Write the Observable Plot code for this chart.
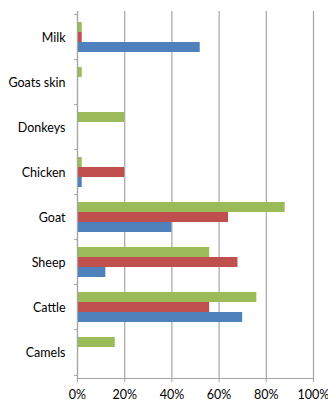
<!DOCTYPE html>
<html>
<head>
<meta charset="utf-8">
<script src="https://cdn.jsdelivr.net/npm/d3@7"></script>
<script src="https://cdn.jsdelivr.net/npm/@observablehq/plot@0.6"></script>
<style>
  html, body { margin: 0; padding: 0; background: #fff; }
</style>
</head>
<body>
<div id="chart"></div>
<script>
// Livestock categories, listed top to bottom
const categories = ["Milk", "Goats skin", "Donkeys", "Chicken", "Goat", "Sheep", "Cattle", "Camels"];

// Shares per category for each of the three series
const seriesBlue  = [0.52, 0,    0,    0.02, 0.40, 0.12, 0.70, 0];
const seriesRed   = [0.02, 0,    0,    0.20, 0.64, 0.68, 0.56, 0];
const seriesGreen = [0.02, 0.02, 0.20, 0.02, 0.88, 0.56, 0.76, 0.16];

const xTicks = [0, 0.2, 0.4, 0.6, 0.8, 1.0];

const colors = {blue: "#4F81BD", red: "#C0504D", green: "#9BBB59"};
const gridColor = "#a6a6a6";

const width = 328, height = 402;
const margin = {top: 11, right: 15, bottom: 24, left: 77};
const step = (height - margin.top - margin.bottom) / categories.length;
const barH = 10;
const pad = 1 - barH / step;

const rows = (values, series) => categories.map((c, i) => ({category: c, value: values[i], series}));

const chart = Plot.plot({
  width, height,
  marginTop: margin.top,
  marginRight: margin.right,
  marginBottom: margin.bottom,
  marginLeft: margin.left,
  style: {fontFamily: "Lato, 'Open Sans', sans-serif", fontSize: "12.5px", color: "#000", background: "#fff", overflow: "visible"},
  x: {domain: [0, 1], label: null},
  y: {domain: categories, paddingInner: pad, paddingOuter: pad / 2, label: null},
  marks: [
    Plot.gridX(xTicks, {stroke: gridColor, strokeOpacity: 1, strokeWidth: 1.2}),
    Plot.frame({anchor: "bottom", stroke: gridColor, strokeWidth: 1.2}),
    Plot.axisX({ticks: xTicks, tickFormat: d3.format(".0%"), tickSize: 4, tickPadding: 8, stroke: gridColor, fill: "#000", label: null}),
    Plot.axisY({tickSize: 0, tickPadding: 12, fill: "#000", label: null}),
    Plot.axisY({ticks: categories, tickSize: 3, tickFormat: () => "", dy: -step / 2, stroke: gridColor, label: null}),
    Plot.axisY({ticks: [categories[categories.length - 1]], tickSize: 3, tickFormat: () => "", dy: step / 2, stroke: gridColor, label: null}),
    Plot.barX(rows(seriesGreen, "green").filter(d => d.value > 0), {x: "value", y: "category", fill: colors.green, dy: -barH}),
    Plot.barX(rows(seriesRed, "red").filter(d => d.value > 0), {x: "value", y: "category", fill: colors.red}),
    Plot.barX(rows(seriesBlue, "blue").filter(d => d.value > 0), {x: "value", y: "category", fill: colors.blue, dy: barH}),
    Plot.ruleX([0], {stroke: gridColor, strokeWidth: 1.2})
  ]
});

document.getElementById("chart").appendChild(chart);
</script>
</body>
</html>
